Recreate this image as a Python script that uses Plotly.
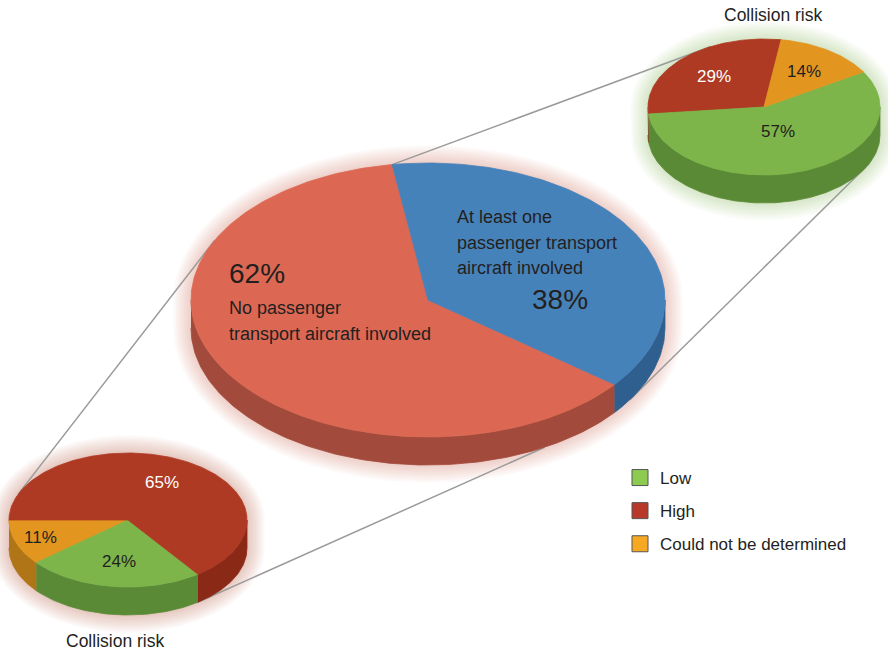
import numpy as np
import plotly.graph_objects as go

# ---------------- data ----------------
main_labels = ["No passenger transport aircraft involved",
               "At least one passenger transport aircraft involved"]
main_values = [62, 38]

risk_labels = ["Low", "High", "Could not be determined"]
risk_with_pax = [57, 29, 14]   # pie linked to "At least one passenger transport aircraft involved"
risk_no_pax = [24, 65, 11]     # pie linked to "No passenger transport aircraft involved"

# ---------------- styling ----------------
FONT = "Liberation Sans, Arial, sans-serif"
risk_top = ["#7DB54A", "#AE3A23", "#E2961F"]
risk_side = ["#5A8A36", "#8A2A16", "#B07516"]
risk_legend = ["#8CCB50", "#B8392A", "#F7A823"]
main_top = ["#DC6853", "#4682BA"]
main_side = ["#A24A3B", "#2F5F8E"]

pies = {
    "main": dict(cx=428, cy=300, rx=237, ry=137, depth=28, start=98.7,
                 values=main_values, order=[0, 1], top=main_top, side=main_side,
                 glow="#C85545"),
    "pax": dict(cx=764, cy=107, rx=116, ry=68, depth=28, start=81.5,
                values=risk_with_pax, order=[1, 0, 2], top=risk_top, side=risk_side,
                glow="#6E9E40"),
    "nopax": dict(cx=128, cy=520, rx=119, ry=67, depth=28, start=180.0,
                  values=risk_no_pax, order=[2, 0, 1], top=risk_top, side=risk_side,
                  glow="#A83A28"),
}


def pt(p, t_deg, dz=0.0, grow=0.0):
    t = np.radians(t_deg)
    return (p["cx"] + (p["rx"] + grow) * np.cos(t),
            p["cy"] - (p["ry"] + grow) * np.sin(t) + dz)


def arc(p, a0, a1, dz=0.0, grow=0.0):
    n = max(int(abs(a1 - a0)), 2) + 1
    t = np.linspace(a0, a1, n)
    return pt(p, t, dz, grow)


def slices(p):
    total = float(sum(p["values"]))
    a = p["start"]
    out = []
    for i in p["order"]:
        span = 360.0 * p["values"][i] / total
        out.append((i, a, a + span))
        a += span
    return out


fig = go.Figure()


def poly(xs, ys, color, opacity=1.0, lw=0.8):
    fig.add_trace(go.Scatter(x=list(xs), y=list(ys), mode="lines", fill="toself",
                             fillcolor=color, line=dict(color=color, width=lw),
                             opacity=opacity, hoverinfo="skip", showlegend=False))


# soft glow under each pie
for key, p in pies.items():
    for k in range(8, 0, -1):
        g = 2.2 * k
        x1, y1 = arc(p, 0, 180, 0, g)
        x2, y2 = arc(p, 180, 360, p["depth"], g)
        poly(np.r_[x1, x2], np.r_[y1, y2], p["glow"], opacity=0.035, lw=0)

# connector lines
def connector(pa, ta, dza, pb, tb, dzb):
    xa, ya = pt(pa, ta, dza)
    xb, yb = pt(pb, tb, dzb)
    fig.add_trace(go.Scatter(x=[xa, xb], y=[ya, yb], mode="lines",
                             line=dict(color="#9A9A9A", width=1.5),
                             hoverinfo="skip", showlegend=False))

M, P, N = pies["main"], pies["pax"], pies["nopax"]
connector(M, M["start"], 0, P, 117.5, 0)
connector(M, -31.6, M["depth"], P, -25, P["depth"])
connector(M, 154, 0, N, 157.5, 0)
connector(M, -60.5, M["depth"], N, -54.5, N["depth"])

# sides (front half only) then tops
for key, p in pies.items():
    for i, a0, a1 in slices(p):
        for k in range(-1, 3):
            lo, hi = 180 + 360 * k, 360 + 360 * k
            s0, s1 = max(a0, lo), min(a1, hi)
            if s1 > s0:
                xt, yt = arc(p, s0, s1)
                xb, yb = arc(p, s1, s0, p["depth"])
                poly(np.r_[xt, xb], np.r_[yt, yb], p["side"][i])
    for i, a0, a1 in slices(p):
        xa, ya = arc(p, a0, a1)
        poly(np.r_[p["cx"], xa, p["cx"]], np.r_[p["cy"], ya, p["cy"]], p["top"][i])

# legend entries
for i, lab in enumerate(risk_labels):
    fig.add_trace(go.Scatter(x=[None], y=[None], mode="markers", name=lab,
                             legendgroup=lab,
                             marker=dict(symbol="square", size=17, color=risk_legend[i],
                                         line=dict(color="#555555", width=1))))

ann = []

def text(x, y, s, size, color="#231F20", xanchor="left"):
    ann.append(dict(x=x, y=y, xref="x", yref="y", text=s, showarrow=False,
                    xanchor=xanchor, yanchor="middle",
                    font=dict(family=FONT, size=size, color=color)))

# percentage labels of the small pies, placed at slice mid-angles
label_radius = {("nopax", 2): 0.78, ("pax", 0): 0.38}
for key in ["pax", "nopax"]:
    p = pies[key]
    tot = sum(p["values"])
    for i, a0, a1 in slices(p):
        f = label_radius.get((key, i), 0.62)
        t = np.radians((a0 + a1) / 2)
        x = p["cx"] + f * p["rx"] * np.cos(t)
        y = p["cy"] - f * p["ry"] * np.sin(t)
        col = "#FFFFFF" if i == 1 else "#231F20"
        text(x, y, f"{round(100 * p['values'][i] / tot)}%", 17, col, "center")

# main pie labels
text(227, 273, f"{main_values[0]}%", 28)
text(227, 308, "No passenger", 18)
text(227, 334, "transport aircraft involved", 18)
text(455, 217, "At least one", 18)
text(455, 243, "passenger transport", 18)
text(455, 268, "aircraft involved", 18)
text(530, 299, f"{main_values[1]}%", 28)

# titles of small pies
text(773, 15, "Collision risk", 17.5, xanchor="center")
text(115, 641, "Collision risk", 17.5, xanchor="center")

fig.update_layout(
    width=888, height=655,
    margin=dict(l=0, r=0, t=0, b=0),
    paper_bgcolor="white", plot_bgcolor="white",
    xaxis=dict(range=[0, 888], visible=False, fixedrange=True),
    yaxis=dict(range=[655, 0], visible=False, fixedrange=True),
    annotations=ann,
    showlegend=True,
    legend=dict(x=620 / 888, y=1 - 460 / 655, xanchor="left", yanchor="top",
                font=dict(family=FONT, size=17, color="#231F20"),
                tracegroupgap=8, bgcolor="rgba(0,0,0,0)", itemclick=False),
)

fig.write_html("out.html", config={"displayModeBar": False},
               post_script="document.body.style.margin='0';document.body.style.overflow='hidden';")
